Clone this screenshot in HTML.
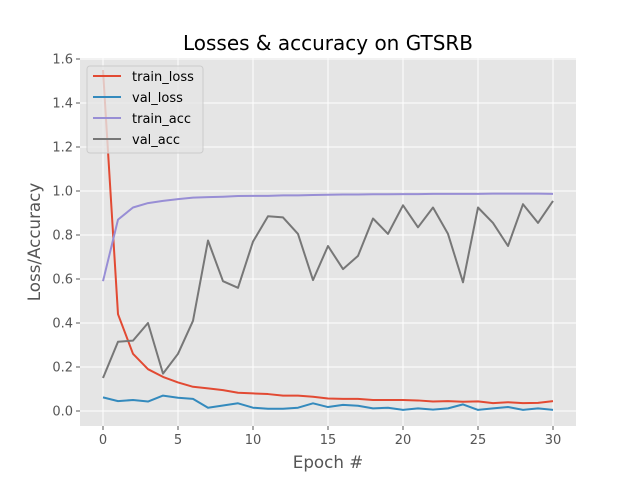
<!DOCTYPE html>
<html><head><meta charset="utf-8"><style>body{margin:0;background:#fff}svg{display:block;font-family:"DejaVu Sans","Liberation Sans",sans-serif}</style></head>
<body>
<svg id="chart" width="640" height="480" viewBox="0 0 640 480" xmlns="http://www.w3.org/2000/svg">
<rect x="0" y="0" width="640" height="480" fill="#fff"/>
<rect x="80" y="58" width="496" height="368" fill="#E5E5E5"/>
<g id="grid"></g><g id="series"></g><g id="ticks"></g>
<text x="328" y="50" font-size="20" text-anchor="middle" fill="#000">Losses &amp; accuracy on GTSRB</text>
<text x="328" y="468" font-size="16.7" text-anchor="middle" fill="#555">Epoch #</text>
<text x="40" y="242" font-size="16.7" text-anchor="middle" fill="#555" transform="rotate(-90 40 242)">Loss/Accuracy</text>
<g id="legend"></g>
</svg>
<script>
const epochs = Array.from({length:31},(_,i)=>i);
const trainLoss = [1.55,0.44,0.26,0.19,0.155,0.13,0.11,0.103,0.095,0.083,0.08,0.077,0.07,0.07,0.065,0.057,0.055,0.055,0.05,0.05,0.05,0.048,0.043,0.045,0.042,0.044,0.036,0.04,0.036,0.037,0.045];
const valLoss = [0.062,0.045,0.05,0.043,0.07,0.06,0.055,0.015,0.025,0.035,0.015,0.01,0.01,0.015,0.035,0.018,0.028,0.024,0.012,0.015,0.005,0.012,0.006,0.012,0.03,0.005,0.012,0.018,0.005,0.012,0.005];
const trainAcc = [0.59,0.87,0.925,0.945,0.955,0.963,0.97,0.972,0.974,0.977,0.978,0.978,0.98,0.98,0.982,0.983,0.984,0.984,0.985,0.985,0.986,0.986,0.987,0.987,0.987,0.987,0.988,0.988,0.988,0.988,0.987];
const valAcc = [0.15,0.315,0.32,0.40,0.17,0.26,0.41,0.775,0.59,0.56,0.77,0.885,0.88,0.805,0.595,0.75,0.645,0.705,0.875,0.805,0.935,0.835,0.925,0.805,0.585,0.925,0.855,0.75,0.94,0.855,0.955];
const xTicks = [0,5,10,15,20,25,30];
const yTicks = [0,0.2,0.4,0.6,0.8,1.0,1.2,1.4,1.6];
const seriesNames = ["train_loss","val_loss","train_acc","val_acc"];
const colors = ["#E24A33","#348ABD","#988ED5","#777777"];

const NS="http://www.w3.org/2000/svg";
const X=v=>103+v*15, Y=v=>411-v*220;
function mk(t,a,p){const e=document.createElementNS(NS,t);for(const k in a)e.setAttribute(k,a[k]);p.appendChild(e);return e;}
const grid=document.getElementById('grid'), ticks=document.getElementById('ticks'), ser=document.getElementById('series'), leg=document.getElementById('legend');
xTicks.forEach(t=>{
  const l=mk('line',{x1:X(t),x2:X(t),y1:58,y2:426,stroke:'#fff','stroke-width':1},grid);
  
  
  mk('line',{x1:X(t),x2:X(t),y1:426,y2:430,stroke:'#555'},ticks);
  const tx=mk('text',{x:X(t),y:444,'font-size':13,'text-anchor':'middle',fill:'#555'},ticks);
  tx.textContent=t;
  
  
});
yTicks.forEach(t=>{
  const l=mk('line',{x1:80,x2:576,y1:Y(t),y2:Y(t),stroke:'#fff','stroke-width':1},grid);
  
  
  mk('line',{x1:76,x2:80,y1:Y(t),y2:Y(t),stroke:'#555'},ticks);
  const tx=mk('text',{x:73,y:Y(t)+4.5,'font-size':13,'text-anchor':'end',fill:'#555'},ticks);
  tx.textContent=t.toFixed(1);
  
  
});
[trainLoss,valLoss,trainAcc,valAcc].forEach((d,i)=>{
  const p=mk('polyline',{points:d.map((v,j)=>X(epochs[j])+','+Y(v)).join(' '),fill:'none',stroke:colors[i],'stroke-width':2,'stroke-linejoin':'round'},ser);
  
  
});
mk('rect',{x:87,y:66,width:116,height:87,rx:3,fill:'#E5E5E5',stroke:'#ccc','fill-opacity':0.8},leg);
seriesNames.forEach((n,i)=>{
  const y=76+i*21;
  mk('line',{x1:93,x2:121,y1:y,y2:y,stroke:colors[i],'stroke-width':2},leg);
  const t=mk('text',{x:132,y:y+5,'font-size':13,fill:'#000'},leg);
  t.textContent=n;
  
  
});
</script>
</body></html>
